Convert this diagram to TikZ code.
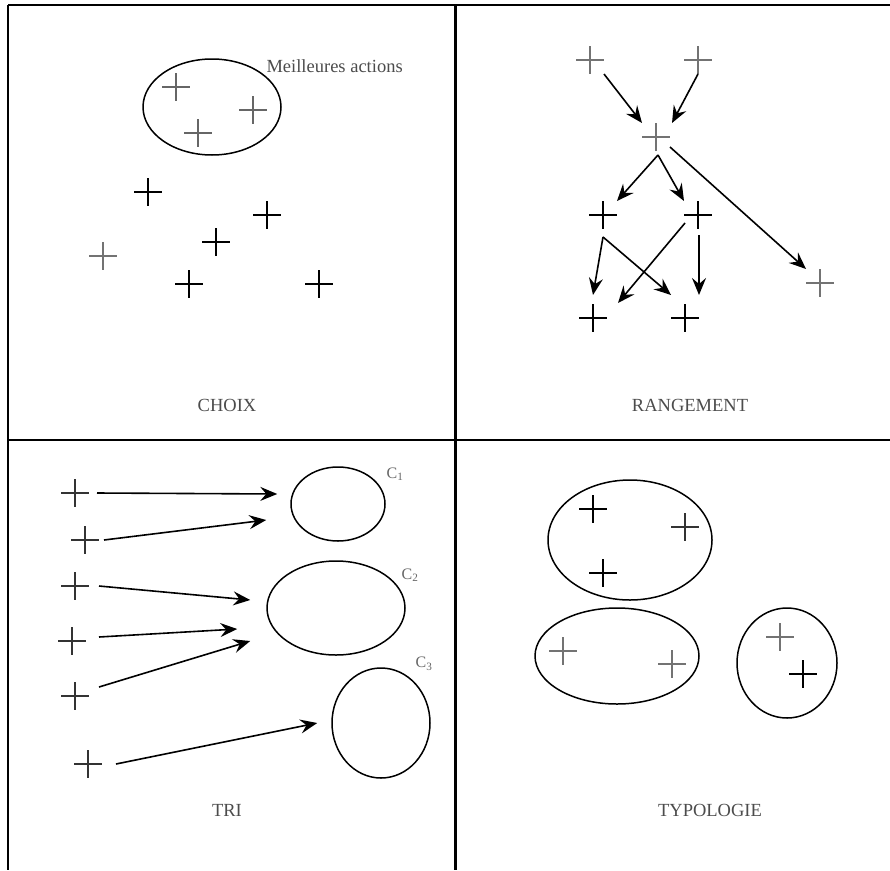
\documentclass[tikz,border=0pt]{standalone}
\usepackage{fontspec}
\setmainfont{Liberation Serif}
\usetikzlibrary{shapes.geometric,arrows.meta}
\begin{document}
\begin{tikzpicture}[x=1pt,y=-1pt,
  plus/.style={minimum size=28pt,inner sep=0pt,outer sep=0pt,
    path picture={\draw[line width=1.4pt,#1]
      (path picture bounding box.west) -- (path picture bounding box.east)
      (path picture bounding box.north) -- (path picture bounding box.south);}},
  plus/.default=black,
  oval/.style={draw,ellipse,line width=1.5pt,inner sep=0pt},
  arr/.style={line width=1.6pt,-{Stealth[length=17pt,width=14pt,inset=6pt]}},
  lbl/.style={text=black!70,font=\fontsize{18.5}{20}\selectfont},
  clbl/.style={text=black!60,font=\fontsize{16}{18}\selectfont},
  frame/.style={line width=1.6pt}]
\useasboundingbox (0,0) rectangle (890,870);
% frame
\coordinate (tl) at (8,5);
\coordinate (tr) at (890,5);
\coordinate (bl) at (8,870);
\coordinate (mt) at (455,5);
\coordinate (mb) at (455,870);
\coordinate (ml) at (8,440);
\coordinate (mr) at (890,440);
\draw[frame] (tl) -- (tr);
\draw[frame,line width=2pt] (tl) -- (bl);
\draw[frame,line width=1.8pt] (ml) -- (mr);
\draw[frame,line width=3pt] (mt) -- (mb);

% ---------- CHOIX ----------
\node[oval,minimum width=138pt,minimum height=96pt] (best) at (212,107) {};
\node[lbl,anchor=west] (bestlbl) at (263,66) {Meilleures actions};
\node[plus=black!60] (q1a) at (176,87) {};
\node[plus=black!60] (q1b) at (253,110) {};
\node[plus=black!60] (q1c) at (198,133) {};
\node[plus] (q1d) at (148,192) {};
\node[plus] (q1e) at (267,215) {};
\node[plus] (q1f) at (216,242) {};
\node[plus=black!55] (q1g) at (103,256) {};
\node[plus] (q1h) at (189,284) {};
\node[plus] (q1i) at (319,284) {};
\node[lbl] (choix) at (227,405) {CHOIX};

% ---------- RANGEMENT ----------
\node[plus=black!55] (A) at (590,60) {};
\node[plus=black!55] (B) at (698,60) {};
\node[plus=black!55] (C) at (656,137) {};
\node[plus] (D) at (603,215) {};
\node[plus] (E) at (698,215) {};
\node[plus=black!55] (F) at (820,283) {};
\node[plus] (G) at (593,318) {};
\node[plus] (H) at (685,318) {};
\draw[arr] (A.south east) -- (C.north west);
\draw[arr] (B.south) -- ([xshift=2pt]C.north east);
\draw[arr] ([yshift=-4pt,xshift=2pt]C.south) -- (D.north east);
\draw[arr] ([yshift=-4pt,xshift=2pt]C.south) -- (E.north west);
\draw[arr] ([yshift=4pt]C.south east) -- (F.north west);
\draw[arr] ([yshift=-8pt]D.south) -- ([yshift=9pt]G.north);
\draw[arr] ([yshift=-8pt]D.south) -- ([yshift=9pt]H.north west);
\draw[arr] ([yshift=6pt,xshift=1pt]E.south west) -- ([xshift=11pt,yshift=1pt]G.north east);
\draw[arr] ([yshift=-6pt,xshift=1pt]E.south) -- ([yshift=9pt]H.north east);
\node[lbl] (rang) at (690,405) {RANGEMENT};

% ---------- TRI ----------
\node[oval,minimum width=94pt,minimum height=74pt] (c1) at (338,504) {};
\node[oval,minimum width=138pt,minimum height=94pt] (c2) at (336,608) {};
\node[oval,minimum width=98pt,minimum height=110pt] (c3) at (381,723) {};
\node[clbl] (c1l) at (395,474) {C\textsubscript{1}};
\node[clbl] (c2l) at (410,575) {C\textsubscript{2}};
\node[clbl] (c3l) at (424,664) {C\textsubscript{3}};
\node[plus=black!80] (t1) at (75,493) {};
\node[plus=black!80] (t2) at (85,540) {};
\node[plus=black!80] (t3) at (75,586) {};
\node[plus=black!80] (t4) at (72,641) {};
\node[plus=black!80] (t5) at (75,696) {};
\node[plus=black!80] (t6) at (88,764) {};
\draw[arr] ([xshift=8pt]t1.east) -- ([xshift=-13pt,yshift=10pt]c1.west);
\draw[arr] ([xshift=5pt]t2.east) -- ([xshift=-24pt,yshift=-16pt]c1.west);
\draw[arr] ([xshift=10pt]t3.east) -- ([xshift=-16pt,yshift=8pt]c2.west);
\draw[arr] ([xshift=13pt,yshift=4pt]t4.east) -- ([xshift=-29pt,yshift=-21pt]c2.west);
\draw[arr] ([xshift=10pt,yshift=9pt]t5.east) -- ([xshift=-16pt,yshift=-33pt]c2.west);
\draw[arr] ([xshift=14pt]t6.east) -- ([xshift=-14pt]c3.west);
\node[lbl] (tri) at (227,810) {TRI};

% ---------- TYPOLOGIE ----------
\node[oval,minimum width=164pt,minimum height=120pt] (e1) at (630,540) {};
\node[oval,minimum width=164pt,minimum height=96pt] (e2) at (617,656) {};
\node[oval,minimum width=100pt,minimum height=110pt] (e3) at (787,663) {};
\node[plus] (y1) at (593,509) {};
\node[plus=black!80] (y2) at (685,527) {};
\node[plus] (y3) at (603,573) {};
\node[plus=black!55] (y4) at (563,651) {};
\node[plus=black!55] (y5) at (672,664) {};
\node[plus=black!55] (y6) at (780,637) {};
\node[plus] (y7) at (803,674) {};
\node[lbl] (typo) at (710,810) {TYPOLOGIE};
\end{tikzpicture}
\end{document}
